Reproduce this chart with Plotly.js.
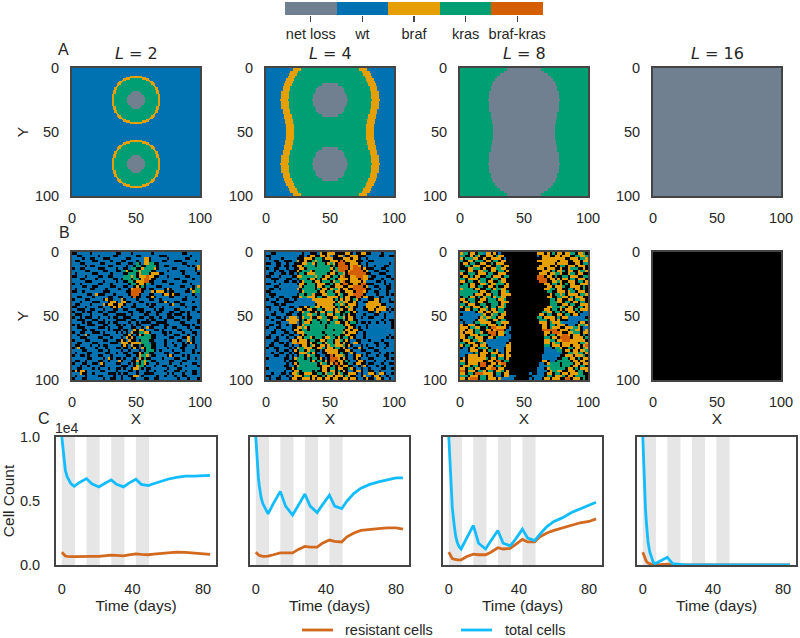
<!DOCTYPE html>
<html><head><meta charset="utf-8">
<script src="https://cdn.plot.ly/plotly-3.0.1.min.js"></script>
<style>html,body{margin:0;padding:0;background:#fff}#c{width:800px;height:638px}</style>
</head><body><div id="c"></div>
<script>
const categories = ['net loss','wt','braf','kras','braf-kras'];
const catColors = ['#708090','#0072B2','#E69F00','#009E73','#D55E00','#000000'];
const panelTitles = ['2','4','8','16'];
const seriesNames = ['resistant cells','total cells'];
const seriesColors = ['#D2691E','#12BCFF'];

// half-widths of regions around x=50. L=2: per data row y=0..49; others: per 2 rows. Mirrored about y=50.
const a1Orange = [0,0,0,0,0,0,5.5,8,10,11.5,12.7,13.8,14.7,15.5,16.2,16.8,17.3,17.8,18.2,18.5,18.8,19,19.1,19.2,19.3,19.3,19.2,19.1,19,18.8,18.5,18.2,17.8,17.3,16.8,16.2,15.5,14.7,13.8,12.7,11.5,10,8,5.5,0,0,0,0,0,0];
const a1Green  = [0,0,0,0,0,0,0,0,5.5,7.9,9.6,11,12.1,13.1,13.9,14.6,15.2,15.7,16.1,16.5,16.8,17,17.2,17.3,17.4,17.4,17.3,17.2,17,16.8,16.5,16.1,15.7,15.2,14.6,13.9,13.1,12.1,11,9.6,7.9,5.5,0,0,0,0,0,0,0,0];
const a1Gray   = [0,0,0,0,0,0,0,0,0,0,0,0,0,0,0,0,0,0,2,4,5.1,5.8,6.3,6.6,6.8,6.8,6.6,6.3,5.8,5.1,4,2,0,0,0,0,0,0,0,0,0,0,0,0,0,0,0,0,0,0];
const a2Orange = [29,31,32,33,34,35,36,37,37,38,38,38,39,38,38,38,37,37,36,36,35,35,34,34,34];
const a2Green  = [23,25,26,27,28,29,30,31,31,32,32,32,33,32,32,32,31,31,30,30,29,29,28,28,28];
const a2Gray   = [0,0,0,0,0,0,6,9,11,12,13,13,14,13,13,12,11,9,6,0,0,0,0,0,0];
const a3Gray   = [13,16,19,21,23,24,25,26,26,27,27,27,28,27,27,27,27,26,26,26,25,25,24,24,24];

// Row B: state maps, '.' empty, b wt, o braf, g kras, r braf-kras (2x2 data cells)
const b1Rows = [
"..bbbbb.bb bbbbbbb..b bbb.bbbbbb b.bbbbbbbb bbb..bbbbb","bb..bbbbbb .bbbbb..bb bbbbb..bbb bbbb...bbb bbbbbb.bbb",
"bbbb.bb..b bb...bbbbb b..bbbbboo .bbbbbb.bb bbbb..bbbb","b..bbbbb.. bbbbb.bbb. .bbbb.bboo .bbbb..bbb ...bbbbb.b",
"bbb..bbbbb b..bbbb..b bb..bg.boo gg..bbbbbb bbb..bbbbb","bbbbb.b..b bbbb..bbbb b.bb.gg..g ggg.bb..bb bbbbb.b.bo",
".bb..bbbbb ...bbbb.bb ..bgg..ogg ggo.bbbbb. .bbbbbbb.o","bbbbb..bbb bb..bbb..b go..ggoggg g..bbbb.bb bb..bbbb.b",
"b.bbbbbb.. bbbbb.bbbb ..ggg.oggg .ooo..bbbb bbb.bbbbb.","..bbb.bbbb ..bb..bbbb gggog.ooor oo..bbb.bb bbbb..bbbb",
"bbb..bbbb. bbbbbb..b. ggg.gg.orr o..bbbbbbb ..bbbbb.bb","bbbbb...bb bb.bbbb.bb ..gg.ooorr ..bbb..bbb bbb..bbbbb",
".bb.bbbbbb ..bbb.bbbb bb.gg.oo.g b.bbbbbb.. bbbbbb.bbb","bbbb..bb.. bbbbb..bbb ..bb.o.g.b bbb..bbbbb bb..bbb.bo",
"b.bbbbb..b bbb.bbbb.b bb.orrr..b ..bbbb.o.b bbbbb.o.gg","..bb.bbbbb bb...bbbbb b..rrrr.bb bo.ooo.b.. bbbb..bogg",
"bbbbbb..bo ...bbb.bbb bb.rrr.bbb ..bbb.oo.o ..bbbbb.bb","bb..bbbb.b bbbb..bb.. bbb.r..bb. .o.bbbbb.. bbbb.bbb.b",
".bbbb..bbb bb.o..bbbo .bbbb.bbbb ..bb.bbbbb bbb..bbbbb","bbb.bbbb.. .bbb.oo.bo o..bbb..bb bbbb..o.bb ..bbbbb.bb",
"b..bbbb.bb bbo.oo..oo .bbb.bbbb. b..bbbbb.o bb..bbbbbb","..bbb.bbbb ..bbb.o.o. bbb..bbbbb ..bbb.bbbb bbbb.bb..b",
"bb...bb..b bb.bbb..bb ..bbb...bb bb.b..bbbb ..bbbbb.bb",".bbb.b..bb ..bb...bbb bb..bb..b. .bb..bbb.. bb..b.bbb.",
"b...bbb.bb bb..bbb... .bb.bbbb.. bbb.bbb..b ...bb.bbbb",".bb.b...bb .bbb.b..bb ...bbb..bb ..bb.bb... bbb.b..bbb",
"bb...bbb.. bb.bbbb... .bb..bbbb. b..bbb.bbb ..bbb.bbb.","bbbb.b..bb ...b.b..bb bb.bb.b... .bb....bbb bb..bbbbb.",
".b.bbb...b bb..bbb..b .bb.b..bbb b...bb..bb bbb...b.bb","bb...bbbbb ...b.bbb.. bbb..bb.bo ..bbbb.bb. .bbbb.bb..",
"bbbb..b..b bbbb.b...b ..bbo.oo.b bb..b.bbbb b..bbb.bbb",".bb..bbb.. .b.bbbb.b. b.bo..ggoo .bbbb..b.b bbb.bbb..b",
"bb.bbo.bbb bb...bbbbb ..o.b.o.gg g..bbb.bbb ..bbb.bb.b","bbb...bbbb ..bbb.bbb. bo.o.bgggg g..bbbbb.. bbb..ob.bb",
".bbbb..bbb bb..bbb..o .bo..b.ggg ..bbbb.bbb b..bbob.bb","bb..bbbb.. bbbbb...bo oo.ooooggg b..bbb.bb. bbb.b.o.bb",
"b..bbbb.bb .b..bbbbb. o.bo..b.gg g..bbb.bbb .bb..bbb.b",".bo..bbbb. bbb.bbb..b ..b.o.bo.g g..bbbb.bb bb..bbbb.b",
"bbbb..bbbb ..bb.bbbb. bb.bbb.b.g gg.b.bbbb. bbb.bbb.bb","b.bbbb..bb bbb..bb.bb ..bb..o.gg ..bbbb..bb ..bbbbb.b.",
".bb..b.bbb ..bbb.bbbb b..bb.oggo b..bbbb.o. bbb.b.bbbb","bbbbbb..bb bb.bo.b..b .bbb.bo.g. .bbbb.bbbb ..bbb.bb.b",
"b..bb.bbbb ..bb.bbbo. bbb..o.gog b..bbbbb.. bbb..bbbbb",".bbb..bb.. bo.bbbb..b bb.b.g.go. bbb.bbbb.b bb.bbbb..b",
"bbb.bb.bbb b..bbbbbb. ..bb.ogg.b bb.bb..bbb .bbb.bbbb.","bb..bbbb.b .bbb.bb..b .bb.oob.b. .bbbbbb.bb b..bbbbbbb",
".o.oo.bbbb b..bbbb.bb bb..b.bbb. bb.bbb.bbb ..bb.bb..b","bbbo..bb.b bbbb...b.b ..bbb.bb.. ..bbbbb.b. bbb.bbb..b",
"b.bbb.bbbb ..bbbb.bb. bb..oob.bb bbb.bb.bbb .bb..bbbbb",".bbb..bbbb bb.bb..bb. bbb..bbb.. bb..bbbbbb b.bbb.bbb."];
const b2Rows = [
"bb..bbbbbb bbbb.bb... bo..ooo... .oo.b..oo. .bbbb.bbbb","..bbbbbbbb bbb..b.oo. .oo.ob..oo b..ooo...b bbbb..bb..",
"b.bbbb.bbb bb...ooo.g gg.ooo.... ooo.oo.bb. bbbbbbbbbb","bbb..bb... bbo..o..go gg...ooo.r .oooo...bb ..bbbbbbbb",
"..bb..bb.b b...ooggo. ggg.ogo.rr r..ooo.bb. bbbbbbbb.b","bbbb..b..b ..oo.gggg. ggggg.g.rr rr.orro.b. bb.bbb..bb",
".bb..bbb.b b..oo.gggg gggggo.grr rr.orrr.o. ..bbb..bbb","bbb.b..bb. ..o.gggo.g ggggg.ogrr r.orrrrr.o bb..bbb.bb",
"b..bbb..b. .b.gg.ooog gggg.oo.gg o.rrrrrrr. .bbb...bbb","..bbb.bbbb ..oogggggo gg.oo.gg.o r..oorrroo b..bbbb..b",
"bb...bbb.. bb.ggg.oo. g.oo.gg.oo oo.ooo.roo ..bbb.bbb.","bbb.bbb..b ..b.oggg.o o.ggg.oggo r..oooo.ob bbb..b.bbb",
"..bbb.bbbb bb.oo.ggg. ooo..g.oo. rr..oo.rr. ..bbbb.b.b","bbb..bbbbb bbbo.gggg. oo.gg..ooo ..oorrrr.o bb..bbb..b",
"b..bb.bbbb bbo.ggggg. g.oo.oggo. oo..rrrrr. .bbb.bb..b","..bbbbbbbb bbb.oggggg .oo.gg.oo. .ooo.rrro. bb..bbb.bb",
"b...bbbbbb bb.gg.ggo. ..ooggg.og ..oorrrr.b bbb.bbb.b.","bb.bb..bbb ...oggooo. gg..oooo.g .oo..rr.oo ..bb..bbbb",
".bbb.bb..b b.bbbbbboo oooooo.g.o .oo.go.bbb ..oo.bbb.b","bb..bbb... .bbbbbbbbo ooooooo.og oo..o.bb.. oooo.bbb..",
"bbb..b..bb bbbbbbbbb. oooooo.ggo g.ooo.bbbo ooooo..bbb","..bbb.bbb. .bb..o.ggo o.ooooo.g. .ogo..bb.o ooo.ooob.b",
"b.bbb..bbb b.oo..oo.. gg.ooo.ogo ..oo.bbb.. oo.oooo.b.","bbb.bb.bb. .bb.ogg..o .oo.gg.oo. .gg.o.bbbb ..bo.bbb.b",
"bb..bbbb.. bb..ggoogg .gg.oo.gg. g.o..bbb.b bb..bb.bbb",".bbb..b.bo oob.oggo.. oogg..oogg o.oo.bb.bb ..bbbb.bbb",
"bb.bbb..oo ooo.g.oogg .gggo.gg.. g.oo..bbbb bbbbb.bb..","bbbb..bbbo oob.goo.gg g.gg.ggoo. .o.gg.b..b .bb.bb.bb.",
"b..bb.bb.b ..b.oggggg ggg.gggggg .oo..bbbb. bbbbbbbbb.",".bbb..bbbb ..oogo.ggg ggg.gggggg g.oo.b.bb. bbbbbbbbb.",
"bbb.bb..bb .oo.gg.ggg gggggg.ggg .oo.oo..bb bbbbbbbbbb","bb..bbb..b b.oooggggg gg.ggggggg o.ooo.bb.b bbbbbbbbbb",
"b.bbbb.bb. .bb.o.gggg ggg.gg.gg. .oo..bbb.b bbbbbbbb.b","..bb.bbb.b b.oo.ggo.g gg.oogg.o. gg.o.bbb.b bbbbbbb.b.",
"bbb..bbbb. oo.ooo.gg. .oo.gg.oog .o.bb..bbb .bbbb.bbbb","bb.bb..b.b oorooo.o.. gg.ogg.oo. o..boo.bbb bb..bb..bb",
"b..bbbb..b .bb.oo.go. .oo.oggooo g.o.bbb.b. bbb.bbb.bb",".bb..bbbb. b.oggooo.. oog.oo.gg. o.bb..o.bb ..bbbb.bbb",
"bbbb.bb..b .o.gg.ogg. .b.ooooo.. .oo.bbb..b bb..bbbbbb","bb.bb..bb. b..ooog.o. bb..oooo.g ..bo.bbbb. .bbb.bb.b.",
"bbb..bbb.b .b.gg.ogg. .bb..r.ooo g.bb.oo.b. bbb.bb..bb",".bbbbbb..b .oggg.g.gg .o.b.rrro. o.bb.o.bbb ..bbbbb.b.",
"bbbbbbb.b. ..ggggg.o. gg.o.rr.oo .g.bb.oo.b bb.bbb.bbb","bbbbbbbb.b .o.ggggggg .ogg.o.r.o ..gb.oo..b ..bbb.bb..",
"bbbbbbb..b b.oggggggg ..ooo.g.r. oo..bb.bo. bbb.bb.bbb",".bbbbbbb.. o.gggggggg g.oo.gg.oo ..go.bb.bb .bbbb..bb.",
"bbbbbbb.bb .oo.gggg.g ..oo.oo.g. o.bb.oo.bb ..bb.bbbbb","bb.bbb..b. oog..ooo.. gg.oggo.og ..ooo.b.bb oo.boo.bb.",
"..bbb.bb.b .ooo.gg.oo ..g.oo.ooo .go..bb.ob b.oo.bb.bb","b.bb..bbb. oo..ooo.o. oo.oo.oo.. oo.oo.bb.o ..boo.bb.b"];
const b3Rows = [
"ogg.oo.ggb oo.o.b.... .......... ooo.o.g.oo .oogg.oog.","gg..o.go.. ooo.goo... .......... b.ooo..oo. ooo..ggoog",
"o.gggoo..o ..oooo.b.. .......... ..oooooooo o..ooo.ggo","g..oo.ggg. oo.gg.oo.. .......... oooooooo.o oo..ooo.oo",
".oo.gg..oo ..g.ooo... .......... ..ooooo.oo oo...oo.gg","..gg.ooo.. oo..gg.oo. .......... .oooo..o.g g.ooo.ooo.",
"...ooggg.o ..ooggoo.. .......... ooo.ooo..o ..oggg..o.","gg.oo..oog g.oo.gg.o. .......... ..ooo.g.oo g.oo..oggo",
"o..ggg.ooo .gg..ooo.. .......... .ooo.ooggo ..ogg.oo..",".oo.g.oo.. gg.ooo.gg. .......... rrr.oo.g.. gg.ooo..gg",
"gg.oooo.gg ..ogg.oo.. .......... rrrr.oo.o. oo.gg.ooo.","oo.gg..ogg .oo..goo.. .......... .rrr..oogo ..ooo.gg.o",
".gg.oo..oo g.ooggg.o. .......... ...oo.gg.o .g.oo..ooo","ggg.oo.gg. .oo.g..oo. .......... ....oo.ooo g..oooo.g.",
"ogggg.oo.. gg.oggoo.. .......... ...oogg.oo ..gg.oo.g.","ggggggg.oo ..ggg.oog. .......... ....gg..oo o.ogg.ooo.",
"ggggg.ooo. oo.gg.oooo .......... .....o.ggo g.oooo.ggo",".gg.oo.g.o gg.oggoo.. .......... ....oo..gg oo.g.ooo..",
"oo.ggg..oo .ggg.oog.. .......... .....gg.oo ..oo.ggoo.",".oo.gg.oo. .gggg.ooo. .......... .....gggoo .gg.oo.gg.",
"gg.ooo..gg ..ggg.og.. .......... .....ggg.. oo.gg..ooo","o.gg.ooo.g o.gg.oog.. .......... ....oogggo g.oo..gg.o",
"..oo.gg.oo g.oo.gg... .......... ...oo.gg.o .ooo.g.ooo","bbbbbb.oo. oo.ooggo.. .......... ..ggoo.gg. g.ooo.g.bb",
".bbbbbbbgo ..ogg.oo.. .......... .oo.gg..oo .gg.oo.bbb","bbbbbbb.og oogg.oo... .......... gg.oooo.g. oobbbbbbb.",
".bbbbb.ooo g..oo.gg.. .......... .ggg.oo.o. ..bbbbbbbg","b.bbb.ggoo oo..ggooo. .......... .ooo.gooog bbbbbb.oo.",
"o..ooo..gg .ooo.g.o.. .......... ..oo.gg.oo o.bbb.oggo","ooo.ggoo.. g.rroooo.b .......... ..oo.gooo. .oooggo.bb",
"oo.oo.gg.. oo.orrr.bb .......... ..rrrrrr.o oo.ggoo.bo","o.ooo.ggo. .rrr.oogb. .......... ...oo.rrro ..ooggg.oo",
"oo..ooo.gg g.rr.oo.bb .......... ...o.gg.oo rro.ooo.g.","oo.gg.ooo. .oo.gbbbbb .......... ...gg.oo.r rrr.oooo.g",
".ooo.ggoo. bbbbbbbbb. .......... ...oogg.oo rrroooooo.","gg.ooo..go bbbbbbbb.o .......... ...oo.ogg. oooooo.ggo",
"o.gg.oo.oo .bbbbbbboo .......... ...gg.ooo. ooo.ooo.or",".bb.oo.ggg o.bbbbb.oo .......... ...bbb.ggo ..gg.oo.go",
"bbb.ooo..o .gg.obb.oo .......... ...bbbbbgg .oo.oo.oog","bbbbb.g.oo o.ooo.b.o. .......... ...bbbbbbb ..ggoogg.o",
"bb.oooo.oo ..gg.oo.oo .......... ..bbbbbbb. .ooo.ooog.",".o.ooooooo g.oo.gg.o. .......... ..bbbbbb.. gg.oo.g.oo",
"oo.oooooo. .oo.rr.gg. .......... ..oo.bb.gg ggg.oo.oo.","gg.oooo.rr ..oo.orr.. .......... .bb.ogggg. gggg.oo.oo",
".ooo.gg.rr .oo.gg.o.. .......... .bbbggggg. ggg.oo.gg.","oo.gg.oo.. oorr.oo... .......... bbb.oggggg g.oo.g.ooo",
"rr.ooo.ggo .gg.oog.o. .......... bbbb.oggoo ..ooo.gg.o","oo.gg.rrro ooo.gg.oo. .......b.. bbb.oo.gg. oo.ooogg..",
"ggg.ooo.gg .oo.bb.oob bb......bb bbb.gg.ooo g.oo.gggg.","oo.orrr.gg .ooo.obbbb b......b.b bb.oo.ooo. .rr.ooo.g."];
const b4Rows = ["."];

// Row C: cell counts in units of 1e4
const timeDays = [0,0.5,1,1.5,2,3,4,5,6,7,10,14,17,21,24,28,31,35,38,42,45,49,52,56,60,65,70,75,80,84];
const total1 = [1.0,.93,.84,.78,.74,.69,.66,.64,.625,.615,.645,.675,.635,.61,.635,.665,.63,.61,.64,.67,.63,.62,.635,.655,.67,.685,.695,.695,.695,.70];
const resist1 = [.10,.09,.08,.075,.07,.067,.065,.065,.065,.065,.067,.07,.068,.067,.072,.077,.075,.072,.08,.087,.083,.08,.085,.09,.095,.10,.098,.093,.088,.083];
const total2 = [1.0,.86,.75,.68,.62,.53,.48,.45,.42,.40,.48,.575,.46,.39,.46,.555,.46,.41,.47,.545,.46,.44,.50,.56,.60,.63,.65,.665,.68,.68];
const resist2 = [.10,.09,.085,.08,.075,.07,.068,.068,.068,.07,.08,.095,.095,.095,.12,.145,.14,.14,.17,.195,.185,.18,.22,.25,.27,.28,.285,.29,.29,.28];
const total3 = [1.0,.84,.68,.56,.45,.32,.22,.17,.14,.125,.20,.31,.17,.125,.19,.27,.17,.15,.20,.28,.21,.19,.24,.30,.34,.37,.41,.44,.47,.49];
const resist3 = [.10,.085,.07,.06,.05,.045,.04,.04,.04,.04,.065,.085,.08,.08,.10,.135,.125,.13,.16,.20,.18,.18,.22,.25,.27,.29,.31,.33,.34,.36];
const total4 = [1.0,.75,.58,.45,.34,.18,.10,.05,.02,.01,.03,.06,.01,.002,.001,.001,.001,.001,.001,.001,.001,.001,.001,.001,.001,.001,.001,.001,.001,.001];
const resist4 = [.10,.08,.06,.045,.03,.015,.007,.005,.003,.002,.003,.006,.001,0,0,0,0,0,0,0,0,0,0,0,0,0,0,0,0,0];
const shadeStart = [0,14,28,42];
const shadeEnd = [7.5,21.5,35.5,49.5];

const W=800,H=638;
const TXT='#262626', LINE='#444444', FONT='"Liberation Sans", Arial, sans-serif';
const xPxMap=[[72,200],[266,394],[460,588],[653,781]];
const xPxLine=[[56,216],[250,409],[443,602],[637,796]];
const dx=p=>[p[0]/W,p[1]/W];
const dy=(t,b)=>[1-b/H,1-t/H];
const scale=[];catColors.forEach((c,i)=>{scale.push([i/6,c]);scale.push([(i+1)/6,c]);});

function buildA(base,layers){
  const z=[],xs=[],ys=[];
  for(let i=0;i<=100;i++){xs.push(i);ys.push(i);}
  for(let y=0;y<100;y++){
    const yy=y<50?y:99-y;
    const row=[];
    for(let x=0;x<100;x++){
      let v=base;const d=Math.abs(x+.5-50);
      layers.forEach(l=>{const a=l[1];const h=a.length===50?a[yy]:a[Math.floor(yy/2)];if(h>0&&d<h)v=l[0];});
      row.push(v);
    }
    z.push(row);
  }
  return {z,x:xs,y:ys};
}
const keyMap={'.':5,b:1,o:2,g:3,r:4};
function buildB(rows){
  const cells=rows.map(s=>s.replace(/ /g,''));
  const n=cells.length, m=Math.max(...cells.map(s=>s.length));
  const z=cells.map(s=>{const r=[];for(let i=0;i<m;i++){const v=keyMap[s[i]];r.push(v===undefined?5:v);}return r;});
  const x=[],y=[];
  for(let i=0;i<=m;i++)x.push(i*100/m);
  for(let i=0;i<=n;i++)y.push(i*100/n);
  return {z,x,y};
}
const hm=(d,i)=>({type:'heatmap',z:d.z,x:d.x,y:d.y,colorscale:scale,zmin:-.5,zmax:5.5,showscale:false,hoverinfo:'skip',xaxis:'x'+(i>1?i:''),yaxis:'y'+(i>1?i:'')});

const rowA=[buildA(1,[[2,a1Orange],[3,a1Green],[0,a1Gray]]),buildA(1,[[2,a2Orange],[3,a2Green],[0,a2Gray]]),buildA(3,[[0,a3Gray]]),buildA(0,[])];
const rowB=[buildB(b1Rows),buildB(b2Rows),buildB(b3Rows),buildB(b4Rows)];
const totals=[total1,total2,total3,total4], resists=[resist1,resist2,resist3,resist4];

const data=[];
rowA.forEach((d,i)=>data.push(hm(d,i+1)));
rowB.forEach((d,i)=>data.push(hm(d,i+5)));
for(let i=0;i<4;i++){
  const a=i+9;
  data.push({type:'scatter',mode:'lines',name:seriesNames[0],x:timeDays,y:resists[i],line:{color:seriesColors[0],width:2.8},showlegend:false,xaxis:'x'+a,yaxis:'y'+a,hoverinfo:'skip'});
  data.push({type:'scatter',mode:'lines',name:seriesNames[1],x:timeDays,y:totals[i],line:{color:seriesColors[1],width:2.8},showlegend:false,xaxis:'x'+a,yaxis:'y'+a,hoverinfo:'skip'});
}
data.push({type:'heatmap',z:[[0,1,2,3,4]],x:[0,1,2,3,4],y:[0],colorscale:scale,zmin:-.5,zmax:5.5,showscale:false,hoverinfo:'skip',xaxis:'x13',yaxis:'y13'});

const tf={family:FONT,size:14.5,color:TXT};
const ttl=(text,standoff)=>({text,font:{family:FONT,size:15.5,color:TXT},standoff});
const tickCommon={ticks:'outside',tickcolor:'rgba(0,0,0,0)',showgrid:false,zeroline:false,showline:true,mirror:true,linecolor:LINE,linewidth:2,tickfont:tf};
const layout={width:W,height:H,margin:{l:0,r:0,t:0,b:0,autoexpand:false},paper_bgcolor:'#fff',plot_bgcolor:'#fff',showlegend:false,shapes:[],annotations:[]};
const mapAxis=(i,xp,t,b,showXTitle,showYTitle)=>{
  const s=i>1?i:'';
  layout['xaxis'+s]=Object.assign({},tickCommon,{domain:dx(xp),range:[0,100],tickvals:[0,50,100],ticklen:8,anchor:'y'+s,
    title:showXTitle?ttl('X',3.5):undefined});
  layout['yaxis'+s]=Object.assign({},tickCommon,{domain:dy(t,b),range:[100,0],tickvals:[0,50,100],ticklen:8,anchor:'x'+s,
    title:showYTitle?ttl('Y',2.5):undefined});
};
for(let i=0;i<4;i++){
  mapAxis(i+1,xPxMap[i],68,196,false,i===0);
  mapAxis(i+5,xPxMap[i],252,380,true,i===0);
  const a=i+9;
  layout['xaxis'+a]=Object.assign({},tickCommon,{domain:dx(xPxLine[i]),range:[-3.3,87.4],tickvals:[0,40,80],ticklen:10,anchor:'y'+a,
    title:ttl('Time (days)',2)});
  layout['yaxis'+a]=Object.assign({},tickCommon,{domain:dy(437,565),range:[0,1],anchor:'x'+a,
    tickvals:i===0?[0,.5,1]:[],ticktext:i===0?['0.0','0.5','1.0']:[],ticklen:11,
    title:i===0?ttl('Cell Count',10):undefined});
  shadeStart.forEach((s,k)=>layout.shapes.push({type:'rect',layer:'below',xref:'x'+a,yref:'y'+a+' domain',x0:s,x1:shadeEnd[k],y0:0,y1:1,fillcolor:'#E6E6E6',line:{width:0}}));
  layout.annotations.push({text:'<i>L</i> = '+panelTitles[i],xref:'paper',yref:'paper',x:(xPxMap[i][0]+xPxMap[i][1])/2/W,y:1-53/H,xanchor:'center',yanchor:'middle',showarrow:false,font:{family:'"DejaVu Sans", sans-serif',size:16,color:TXT}});
}
layout.xaxis13={domain:dx([285,543]),range:[-.5,4.5],tickvals:[0,1,2,3,4],ticktext:categories,ticks:'outside',ticklen:6,tickwidth:1.3,tickcolor:LINE,showgrid:false,zeroline:false,showline:false,tickfont:tf,anchor:'y13'};
layout.yaxis13={domain:dy(2,15),range:[-.5,.5],showticklabels:false,ticks:'',showgrid:false,zeroline:false,showline:false,anchor:'x13'};
const lab=(text,px,py,size)=>({text,xref:'paper',yref:'paper',x:px/W,y:1-py/H,xanchor:'center',yanchor:'middle',showarrow:false,font:{family:FONT,size:size||16,color:TXT}});
layout.annotations.push(lab('A',63,49),lab('B',64,232),lab('C',44,418),lab('1e4',67,428,14));
// legend key
[[302,333,343],[461,492,503]].forEach((p,i)=>{
  layout.shapes.push({type:'line',xref:'paper',yref:'paper',x0:p[0]/W,x1:p[1]/W,y0:1-630/H,y1:1-630/H,line:{color:seriesColors[i],width:2.8}});
  layout.annotations.push({text:seriesNames[i],xref:'paper',yref:'paper',x:p[2]/W,y:1-630/H,xanchor:'left',yanchor:'middle',showarrow:false,font:{family:FONT,size:14.5,color:TXT}});
});
Plotly.newPlot('c',data,layout,{displayModeBar:false,staticPlot:true});
</script></body></html>
